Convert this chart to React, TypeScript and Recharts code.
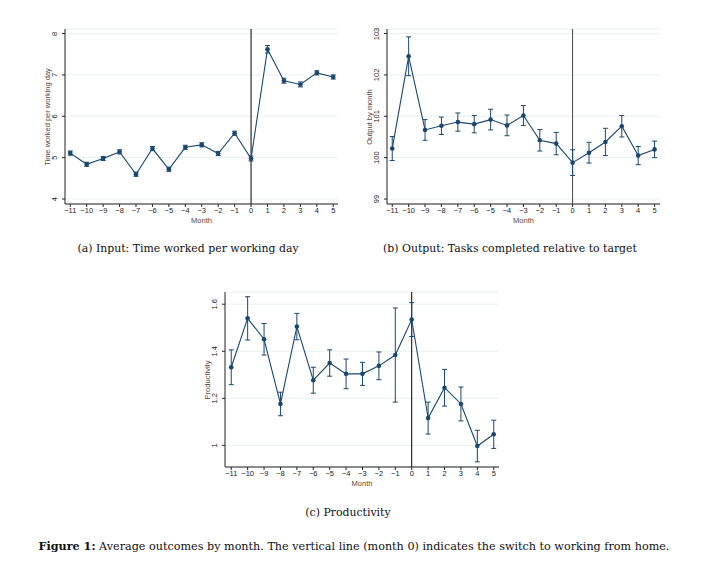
import React from "react";
import {
  LineChart,
  Line,
  XAxis,
  YAxis,
  CartesianGrid,
  ReferenceLine,
  ErrorBar,
} from "recharts";

// months relative to the switch to working from home
const months = [-11, -10, -9, -8, -7, -6, -5, -4, -3, -2, -1, 0, 1, 2, 3, 4, 5];

// (a) time worked per working day
const timeWorked = [5.11, 4.84, 4.98, 5.14, 4.6, 5.22, 4.72, 5.25, 5.31, 5.1, 5.59, 4.98, 7.62, 6.86, 6.77, 7.05, 6.95];
const timeWorkedErr = [0.05, 0.05, 0.05, 0.05, 0.05, 0.05, 0.05, 0.05, 0.05, 0.05, 0.05, 0.06, 0.09, 0.06, 0.06, 0.05, 0.05];
const timeTicks = [4, 5, 6, 7, 8];

// (b) output by month
const output = [100.22, 102.45, 100.67, 100.77, 100.86, 100.81, 100.92, 100.78, 101.02, 100.42, 100.34, 99.88, 100.12, 100.38, 100.76, 100.05, 100.2];
const outputErr = [0.29, 0.47, 0.25, 0.21, 0.22, 0.21, 0.25, 0.25, 0.24, 0.26, 0.27, 0.31, 0.25, 0.33, 0.26, 0.22, 0.2];
const outputTicks = [99, 100, 101, 102, 103];

// (c) productivity
const productivity = [1.332, 1.54, 1.451, 1.176, 1.505, 1.277, 1.35, 1.304, 1.304, 1.338, 1.384, 1.535, 1.116, 1.245, 1.176, 0.997, 1.047];
const productivityErr = [0.074, 0.092, 0.067, 0.05, 0.056, 0.055, 0.056, 0.063, 0.049, 0.059, 0.2, 0.072, 0.068, 0.078, 0.072, 0.067, 0.06];
const productivityTicks = [1, 1.2, 1.4, 1.6];

const NAVY = "#1a476f";
const AXIS_FONT = "'Liberation Sans', Arial, sans-serif";
const SERIF = "'DejaVu Serif', serif";

const fmtMonth = (v: number) => String(v).replace("-", "\u2212");

const RotatedTick = (props: any) => {
  const { x, y, payload } = props;
  const bx = x - 2;
  return (
    <text
      x={bx}
      y={y}
      transform={`rotate(-90 ${bx} ${y})`}
      textAnchor="middle"
      fontSize={7.5}
      fill="#222"
      fontFamily={AXIS_FONT}
    >
      {payload.value}
    </text>
  );
};

interface PanelProps {
  values: number[];
  errors: number[];
  yTicks: number[];
  yDomain: [number, number];
  xDomain: [number, number];
  yLabel: string;
  plot: { l: number; t: number; r: number; b: number };
  labelX: number;
  zeroColor?: string;
}

const Panel = ({ values, errors, yTicks, yDomain, xDomain, yLabel, plot, labelX, zeroColor = "#000" }: PanelProps) => {
  const yAxisW = 25;
  const mTop = 4;
  const mRight = 4;
  const xAxisH = 19;
  const width = plot.r - plot.l + yAxisW + mRight;
  const height = plot.b - plot.t + mTop + xAxisH + 2;
  const data = months.map((m, i) => ({ m, v: values[i], e: errors[i] }));

  return (
    <>
      <div style={{ position: "absolute", left: plot.l - yAxisW, top: plot.t - mTop }}>
        <LineChart width={width} height={height} data={data} margin={{ top: mTop, right: mRight, bottom: 2, left: 0 }}>
          <CartesianGrid vertical={false} stroke="#e3ecee" strokeWidth={0.8} />
          <XAxis
            type="number"
            dataKey="m"
            domain={xDomain}
            ticks={months}
            interval={0}
            allowDataOverflow
            tickFormatter={fmtMonth}
            tickSize={3}
            tickMargin={1}
            height={xAxisH}
            stroke="#222"
            tick={{ fontSize: 7.5, fill: "#222", fontFamily: AXIS_FONT }}
            label={{ value: "Month", position: "insideBottom", offset: 0, fontSize: 7.5, fill: "#5a4636", fontFamily: AXIS_FONT }}
          />
          <YAxis
            type="number"
            domain={yDomain}
            ticks={yTicks}
            allowDataOverflow
            width={yAxisW}
            tickSize={3}
            tickMargin={3}
            stroke="#222"
            tick={<RotatedTick />}
          />
          <ReferenceLine x={0} stroke={zeroColor} strokeWidth={1} />
          <Line
            type="linear"
            dataKey="v"
            stroke={NAVY}
            strokeWidth={1.1}
            dot={{ r: 2.3, fill: NAVY, stroke: NAVY, strokeWidth: 0 }}
            isAnimationActive={false}
          >
            <ErrorBar dataKey="e" direction="y" width={2.5} stroke={NAVY} strokeWidth={1} />
          </Line>
        </LineChart>
      </div>
      <div
        style={{
          position: "absolute",
          left: labelX,
          top: (plot.t + plot.b) / 2,
          transform: "translate(-50%, -50%) rotate(-90deg)",
          whiteSpace: "nowrap",
          fontFamily: AXIS_FONT,
          fontSize: 7.5,
          color: "#5a4636",
        }}
      >
        {yLabel}
      </div>
    </>
  );
};

const Caption = ({ x, y, children, size = 10.9 }: { x: number; y: number; children: React.ReactNode; size?: number }) => (
  <div
    style={{
      position: "absolute",
      left: x,
      top: y,
      transform: "translate(-50%, -50%)",
      whiteSpace: "nowrap",
      fontFamily: SERIF,
      fontSize: size,
      color: "#111",
    }}
  >
    {children}
  </div>
);

export default function App() {
  return (
    <div style={{ position: "absolute", left: 0, top: 0, width: 724, height: 565, background: "#fff" }}>
      <Panel
        values={timeWorked}
        errors={timeWorkedErr}
        yTicks={timeTicks}
        yDomain={[3.88, 8.11]}
        xDomain={[-11.32, 5.29]}
        yLabel="Time worked per working day"
        plot={{ l: 65, t: 29, r: 338, b: 204 }}
        labelX={47}
      />
      <Panel
        values={output}
        errors={outputErr}
        yTicks={outputTicks}
        yDomain={[98.88, 103.11]}
        xDomain={[-11.32, 5.33]}
        yLabel="Output by month"
        plot={{ l: 387, t: 29, r: 660, b: 204 }}
        labelX={369}
        zeroColor="#444"
      />
      <Panel
        values={productivity}
        errors={productivityErr}
        yTicks={productivityTicks}
        yDomain={[0.908, 1.652]}
        xDomain={[-11.38, 5.32]}
        yLabel="Productivity"
        plot={{ l: 225, t: 292, r: 499, b: 467 }}
        labelX={207}
      />
      <Caption x={188} y={248}>(a) Input: Time worked per working day</Caption>
      <Caption x={510} y={248}>(b) Output: Tasks completed relative to target</Caption>
      <Caption x={348} y={512}>(c) Productivity</Caption>
      <Caption x={354} y={546} size={11.2}>
        <b>Figure 1:</b> Average outcomes by month. The vertical line (month 0) indicates the switch to working from home.
      </Caption>
    </div>
  );
}
